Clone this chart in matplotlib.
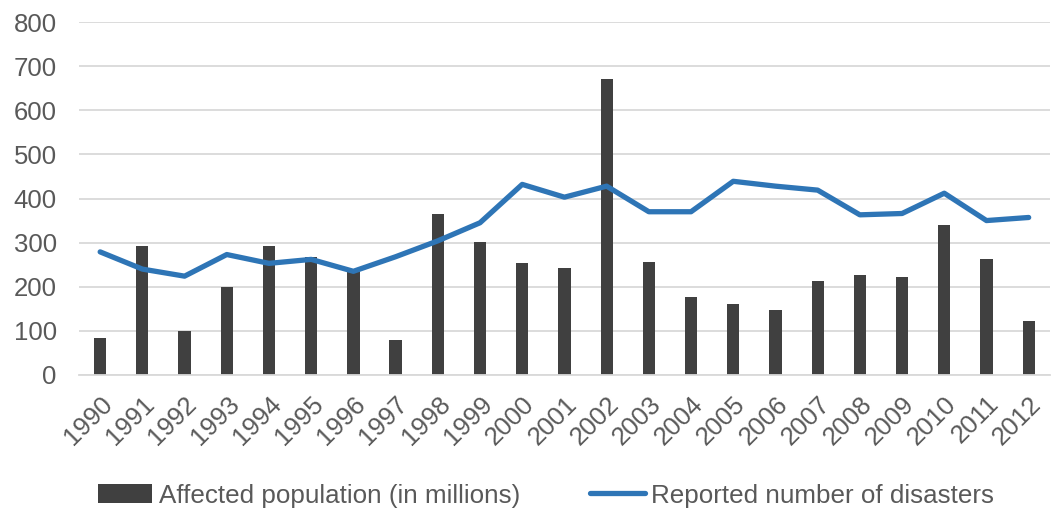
import matplotlib
matplotlib.use("Agg")
import matplotlib.pyplot as plt
import numpy as np

years = [str(y) for y in range(1990, 2013)]
affected = [84, 292, 100, 200, 292, 268, 235, 80, 364, 302, 254, 243, 671,
            256, 177, 161, 147, 213, 226, 222, 340, 262, 122]
disasters = [279, 240, 224, 273, 253, 262, 235, 268, 304, 345, 432, 403, 428,
             370, 370, 439, 428, 419, 363, 366, 412, 350, 357]

plt.rcParams["font.family"] = ["Liberation Sans", "DejaVu Sans"]
text_col = "#595959"

fig = plt.figure(figsize=(10.54, 5.12), dpi=100)
ax = fig.add_axes([0.075, 0.2676, 0.921, 0.6894])

x = np.arange(len(years))
bars = ax.bar(x, affected, width=0.29, color="#404040", zorder=2,
              label="Affected population (in millions)")
line, = ax.plot(x, disasters, color="#2E75B6", linewidth=3.8, zorder=3,
                solid_capstyle="round", label="Reported number of disasters")

ax.set_xlim(-0.5, len(years) - 0.5)
ax.set_ylim(0, 800)
ax.set_yticks(range(0, 801, 100))
ax.yaxis.grid(True, color="#D9D9D9", linewidth=1.3, zorder=0)
ax.set_axisbelow(True)
for s in ["top", "right", "left"]:
    ax.spines[s].set_visible(False)
ax.spines["bottom"].set_color("#D9D9D9")
ax.spines["bottom"].set_linewidth(1.3)
ax.tick_params(length=0, colors=text_col, labelsize=18.5)
ax.tick_params(axis="y", pad=16)
ax.set_xticks(x)
ax.set_xticklabels(years, rotation=45, ha="right", rotation_mode="anchor",
                   fontsize=18.5)
ax.tick_params(axis="x", pad=12)

leg = fig.legend([bars, line], [bars.get_label(), line.get_label()],
                 loc="lower center", bbox_to_anchor=(0.518, -0.037), ncol=2,
                 frameon=False, fontsize=18.7, handlelength=2.1,
                 handletextpad=0.25, columnspacing=2.7)
for t in leg.get_texts():
    t.set_color(text_col)

fig.savefig("out.png", dpi=100)
